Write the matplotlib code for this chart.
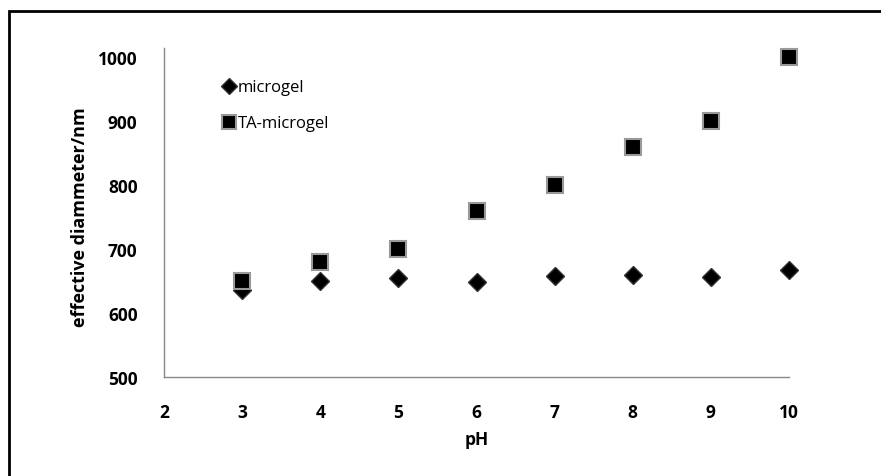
import matplotlib
matplotlib.use("Agg")
import matplotlib.pyplot as plt
from matplotlib.patches import Rectangle

plt.rcParams['font.family'] = ['Open Sans', 'DejaVu Sans']

# данные
ph = [3, 4, 5, 6, 7, 8, 9, 10]
microgel = [636, 650, 655, 648, 658, 659, 656, 667]
ta_microgel = [650, 680, 700, 760, 800, 860, 900, 1000]

x_ticks = [2, 3, 4, 5, 6, 7, 8, 9, 10]
y_ticks = [500, 600, 700, 800, 900, 1000]

fig = plt.figure(figsize=(8.81, 4.77), dpi=100)
ax = fig.add_axes([164 / 881, 1 - 378 / 477, (789 - 164) / 881, (378 - 49) / 477])

# рамка вокруг картинки
fig.patches.append(Rectangle((9 / 881, -0.1), 1.0, 1.1 - 12 / 477, transform=fig.transFigure,
                             fill=False, edgecolor='black', linewidth=2, clip_on=False))

ax.plot(ph, microgel, linestyle='none', marker='D', markersize=9, color='black',
        markeredgecolor='#333333', markeredgewidth=1, label='microgel', clip_on=False)
ax.plot(ph, ta_microgel, linestyle='none', marker='s', markersize=11, color='black',
        markeredgecolor='#999999', markeredgewidth=1.5, label='TA-microgel', clip_on=False)

ax.set_xlim(2, 10)
ax.set_ylim(500, 1014)
ax.set_xticks(x_ticks)
ax.set_yticks(y_ticks)
ax.tick_params(length=0, labelsize=12.5)
ax.tick_params(axis='y', pad=19)
ax.tick_params(axis='x', pad=19)
for lab in ax.get_xticklabels() + ax.get_yticklabels():
    lab.set_fontweight('bold')

for s in ['top', 'right']:
    ax.spines[s].set_visible(False)
for s in ['left', 'bottom']:
    ax.spines[s].set_color('#888888')
    ax.spines[s].set_linewidth(1)

fig.text(477 / 881, 1 - 440 / 477, 'pH', ha='center', va='center', fontsize=12.5, fontweight='bold')
fig.text(80 / 881, 1 - 217 / 477, 'effective diammeter/nm', ha='center', va='center',
         rotation=90, fontsize=13, fontweight='bold')

ax.legend(loc='upper left', bbox_to_anchor=(0.066, 0.95), frameon=False, fontsize=12,
          handletextpad=0.05, handlelength=1.0, labelspacing=1.2, markerscale=0.9)

fig.savefig('out.png', dpi=100)
